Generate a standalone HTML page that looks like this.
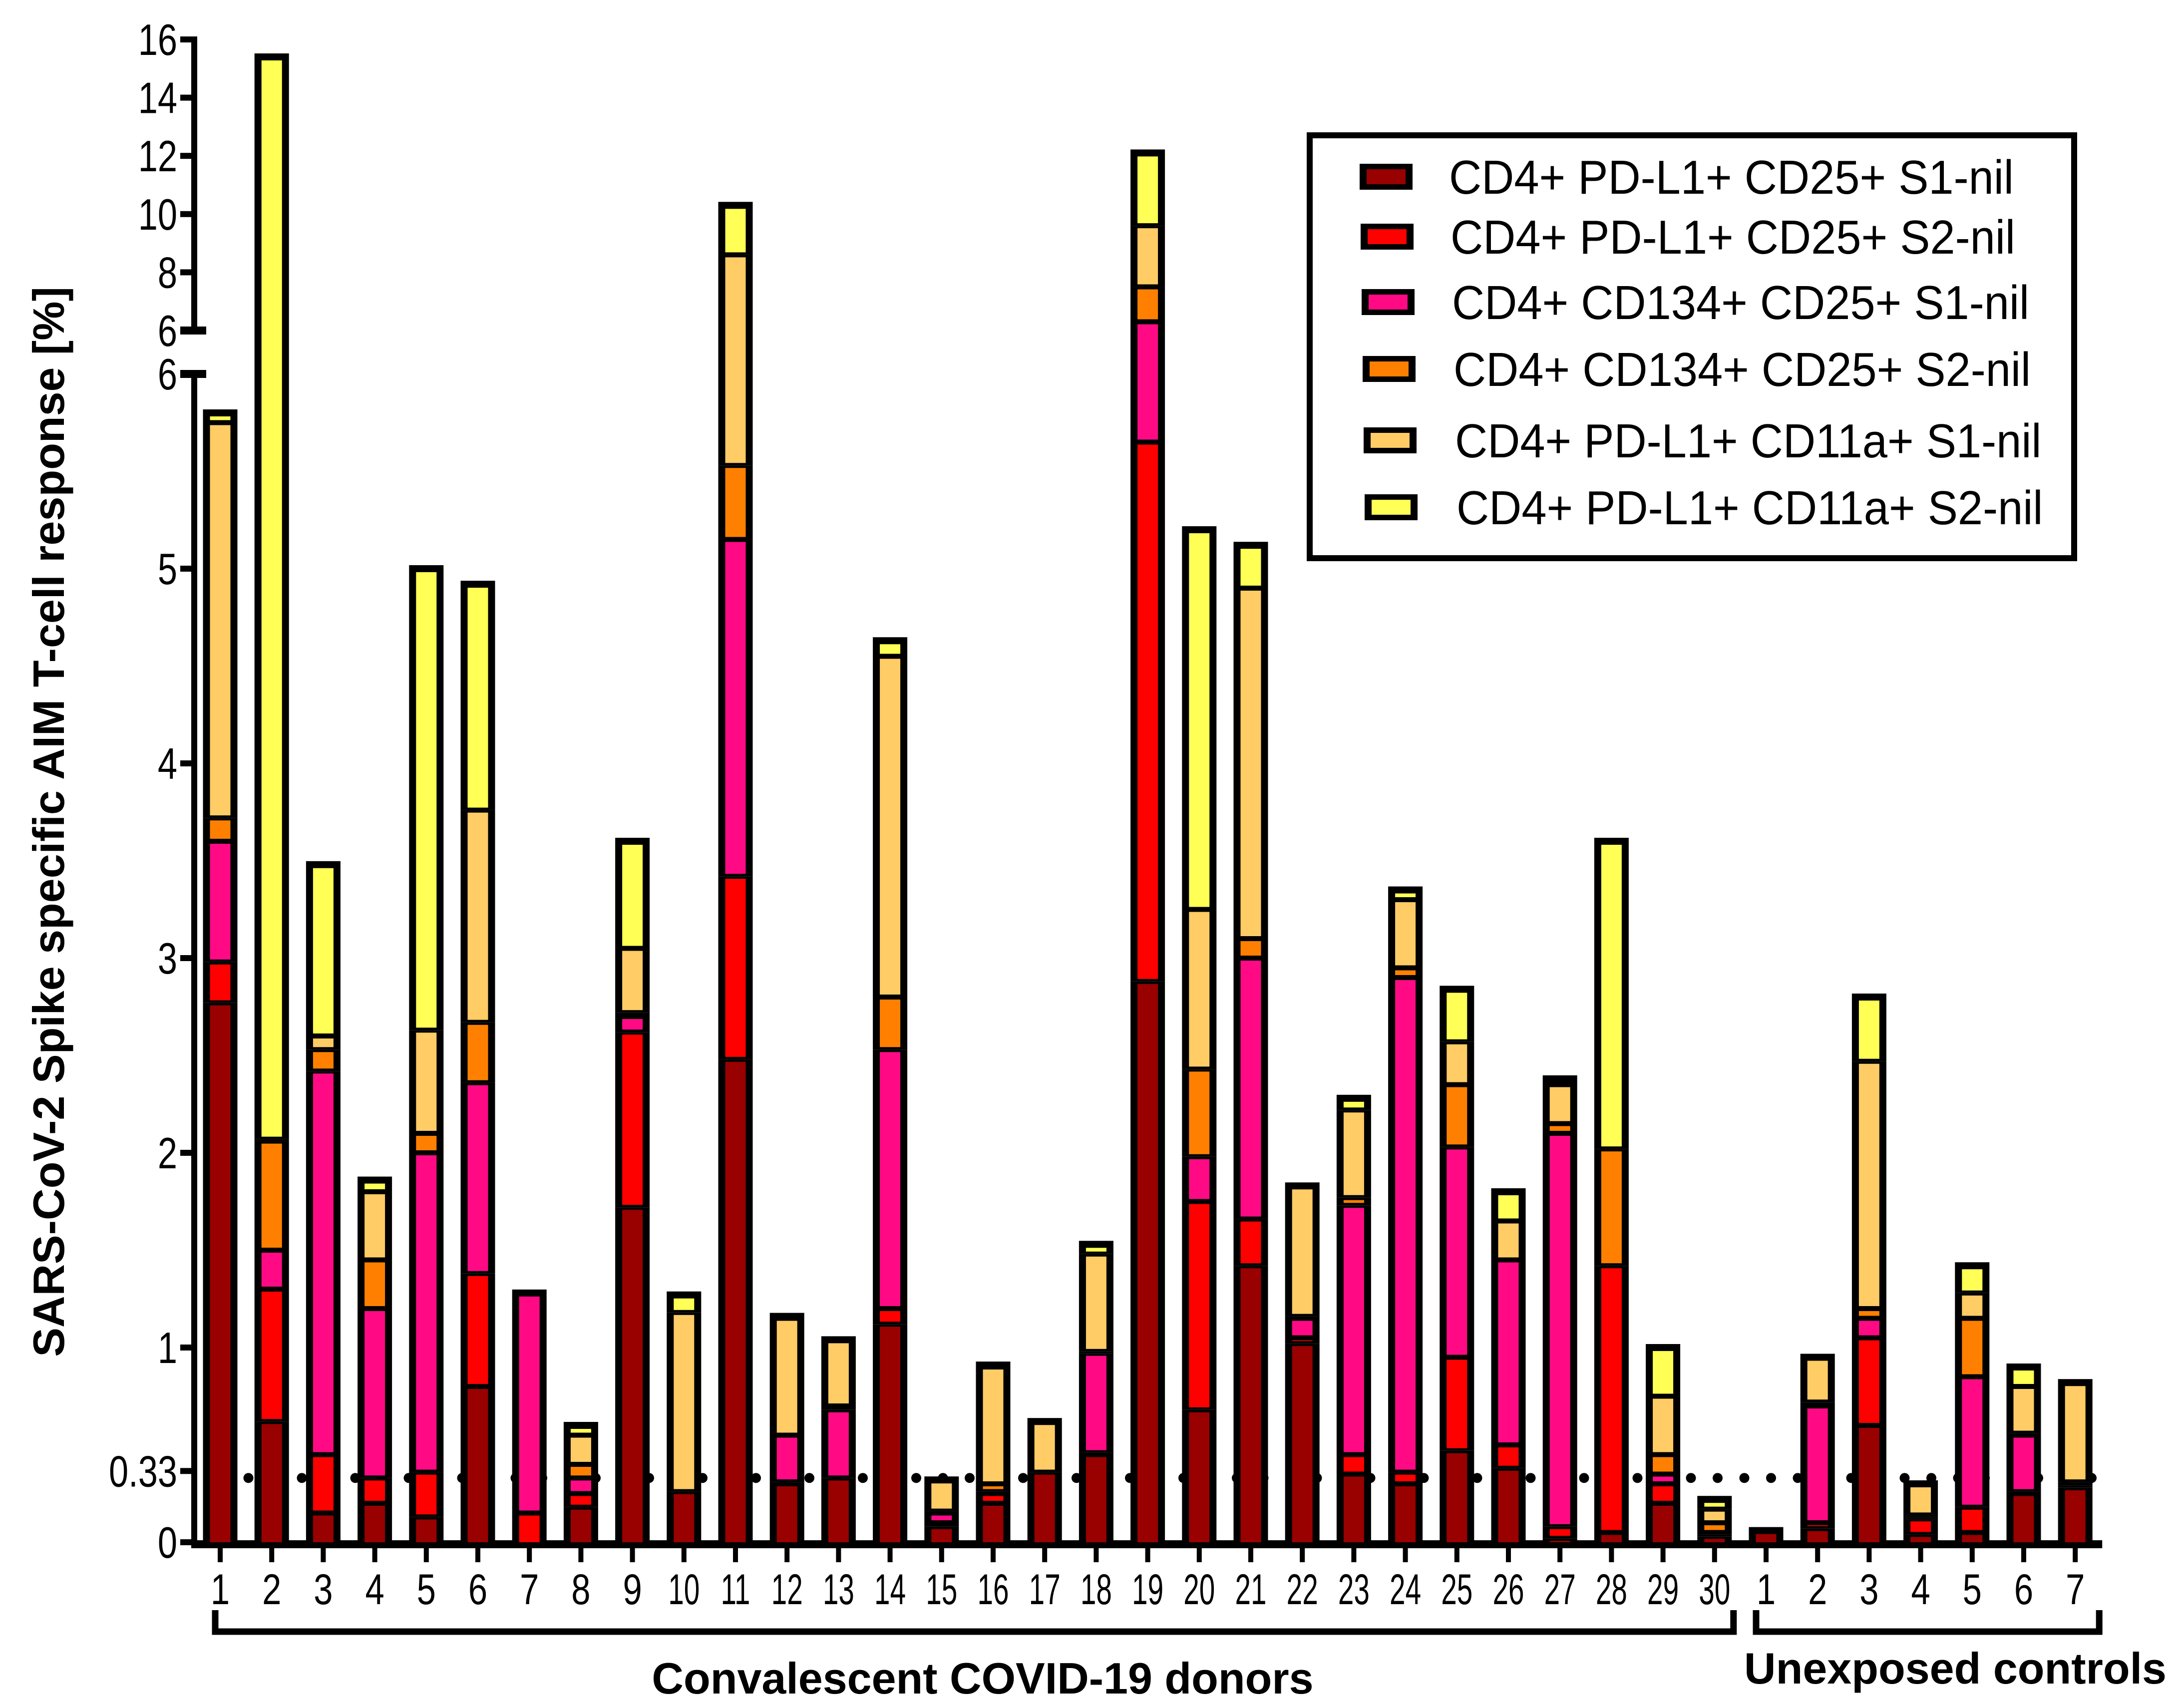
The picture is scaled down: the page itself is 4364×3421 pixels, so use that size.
<!DOCTYPE html>
<html><head><meta charset="utf-8">
<style>
html,body{margin:0;padding:0;background:#fff;}
svg{display:block;font-family:"Liberation Sans",Arial,sans-serif;}
</style></head>
<body>
<svg id="chart" width="4364" height="3421" viewBox="0 0 4364 3421" xmlns="http://www.w3.org/2000/svg">
<g id="axes"></g>
<g id="bars"></g>
<g id="legend"></g>
</svg>
<script>
const categories = ["1","2","3","4","5","6","7","8","9","10","11","12","13","14","15","16","17","18","19","20","21","22","23","24","25","26","27","28","29","30","1","2","3","4","5","6","7"];
const seriesNames = ["CD4+ PD-L1+ CD25+ S1-nil","CD4+ PD-L1+ CD25+ S2-nil","CD4+ CD134+ CD25+ S1-nil","CD4+ CD134+ CD25+ S2-nil","CD4+ PD-L1+ CD11a+ S1-nil","CD4+ PD-L1+ CD11a+ S2-nil"];
const seriesColors = ["#990000","#ff0000","#ff0a84","#ff8000","#ffcc66","#ffff55"];
const pdl1Cd25S1 = [2.77,0.62,0.15,0.20,0.13,0.80,0,0.18,1.72,0.26,2.48,0.30,0.33,1.12,0.08,0.20,0.36,0.45,2.88,0.68,1.42,1.02,0.35,0.30,0.47,0.38,0.02,0.05,0.20,0.03,0.06,0.07,0.60,0.04,0.05,0.25,0.28];
const pdl1Cd25S2 = [0.21,0.68,0.30,0.13,0.23,0.58,0.15,0.07,0.90,0,0.94,0.01,0,0.08,0.02,0.05,0,0.01,2.77,1.07,0.24,0.03,0.10,0.06,0.48,0.12,0.06,1.37,0.10,0.01,0,0.03,0.45,0.08,0.13,0.01,0.01];
const cd134Cd25S1 = [0.62,0.20,1.97,0.87,1.64,0.98,1.13,0.08,0.08,0,1.73,0.24,0.35,1.33,0.05,0.01,0,0.51,0.65,0.23,1.34,0.10,1.28,2.54,1.08,0.95,2.02,0,0.05,0.01,0,0.60,0.10,0.01,0.67,0.29,0.01];
const cd134Cd25S2 = [0.12,0.56,0.11,0.25,0.10,0.31,0,0.07,0.02,0,0.38,0,0.02,0.27,0.01,0.04,0,0.01,1.20,0.45,0.10,0.01,0.04,0.05,0.32,0,0.05,0.60,0.10,0.05,0,0.02,0.05,0.01,0.30,0.01,0.01];
const pdl1Cd11aS1 = [2.03,0.01,0.07,0.35,0.53,1.09,0,0.15,0.33,0.92,3.07,0.60,0.34,1.75,0.16,0.60,0.26,0.50,2.10,0.82,1.80,0.67,0.45,0.35,0.22,0.20,0.20,0,0.30,0.07,0,0.23,1.27,0.16,0.13,0.24,0.51];
const pdl1Cd11aS2 = [0.05,13.33,0.88,0.06,2.37,1.16,0,0.05,0.55,0.09,1.70,0.01,0,0.08,0,0.01,0,0.05,2.50,1.95,0.22,0,0.06,0.05,0.27,0.15,0.03,1.58,0.25,0.05,0,0,0.33,0,0.14,0.10,0];
const lowerTicks = ["0","1","2","3","4","5","6"];
const upperTicks = ["6","8","10","12","14","16"];
const thresholdValue = [0.33];
const series = [pdl1Cd25S1,pdl1Cd25S2,cd134Cd25S1,cd134Cd25S2,pdl1Cd11aS1,pdl1Cd11aS2];

const NS="http://www.w3.org/2000/svg";
const AX=389, Y0=3089, LOWK=390, BRK=6, UP6=662, UPK=58.3;
const X1=441, STEP=103.2, BW=69, BORDER=14, SEP=10;
function yScale(v){ return v<=BRK ? Y0 - v*LOWK : UP6 - (v-BRK)*UPK; }
function xScale(i){ return X1 + i*STEP; }
function mk(tag, attrs, parent){ const e=document.createElementNS(NS,tag); for(const k in attrs) e.setAttribute(k,attrs[k]); parent.appendChild(e); return e; }
const axes=document.getElementById('axes'), bars=document.getElementById('bars'), legend=document.getElementById('legend');

categories.forEach((c,i)=>{
  const cx=xScale(i);
  const g=mk('g',{},bars);
  
  
  let cum=0;
  const total=series.reduce((s,a)=>s+a[i],0);
  series.forEach((arr,s)=>{
    const v=arr[i]; if(v<=0) return;
    const lo=cum, hi=cum+v; cum=hi;
    const pieces=[];
    if(lo<BRK) pieces.push([lo,Math.min(hi,BRK),hi>BRK]);
    if(hi>BRK) pieces.push([Math.max(lo,BRK),hi,false,lo<BRK]);
    pieces.forEach(p=>{
      const yb=yScale(p[0]), yt=yScale(p[1]);
      const cutTop=p[2], cutBot=p[3]===true;
      const isTop = Math.abs(p[1]-total)<1e-9;
      const bt = cutTop?0:(isTop?BORDER:SEP/2), bb = cutBot?0:(p[0]===0?0:SEP/2);
      const bk=mk('rect',{x:cx-BW/2,y:yt-(isTop&&!cutTop?BORDER/2:0),width:BW,height:Math.max(yb-yt+(isTop&&!cutTop?BORDER/2:0),1),fill:'#000'},g);
      
      
      const ih=(yb-bb)-(yt+bt-(isTop&&!cutTop?BORDER/2:0));
      if(ih>0){
        const r=mk('rect',{x:cx-BW/2+BORDER,y:yt+bt-(isTop&&!cutTop?BORDER/2:0),width:BW-2*BORDER,height:ih,fill:seriesColors[s]},g);
        
        
      }
    });
  });
});

function label(x,y,str,size,anchor,parent,sx){
  const t=mk('text',{x:0,y:0,'text-anchor':anchor,'font-size':size,fill:'#000',transform:`translate(${x} ${y}) scale(${sx||0.84} 1)`},parent);
  t.textContent=str;
  return t;
}

let l=mk('rect',{x:AX-6,y:yScale(16)-6,width:12,height:UP6-yScale(16)+6,fill:'#000'},axes);
 
l=mk('rect',{x:AX-6,y:yScale(BRK)-6,width:12,height:Y0-yScale(BRK)+6,fill:'#000'},axes);
 
[UP6, yScale(BRK)].forEach(y=>{ const c=mk('rect',{x:AX-28,y:y-8,width:52,height:16,fill:'#000'},axes);   });
function ytick(v,lab,y){
  const t=mk('rect',{x:AX-28,y:y-6,width:28,height:12,fill:'#000'},axes);
   
  const tx=label(AX-34,y+31,lab,88,'end',axes,0.8);
   
}
lowerTicks.forEach(t=>ytick(+t,t,Y0-(+t)*LOWK));
upperTicks.forEach(t=>ytick(+t,t,UP6-((+t)-BRK)*UPK));
thresholdValue.forEach(v=>ytick(v,String(v),yScale(v)-14));
l=mk('rect',{x:AX-6,y:Y0-4,width:xScale(36)+60-AX,height:16,fill:'#000'},axes);
 
categories.forEach((c,i)=>{
  const t=mk('rect',{x:xScale(i)-5,y:Y0+10,width:10,height:30,fill:'#000'},axes);
   
  const tx=label(xScale(i),Y0+124,c,86,'middle',axes, c.length>1?0.66:0.8);
   
});
for(let x=AX+55; x<xScale(36)+40; x+=53.5){
  const d=mk('circle',{cx:x,cy:yScale(thresholdValue[0]),r:10,fill:'#000'},axes);
   
}
function bracket(x1,x2,name){
  const p=mk('path',{d:`M${x1} 3225 V3268 H${x2} V3225`,fill:'none',stroke:'#000','stroke-width':13},axes);
   
}
bracket(xScale(0)-10,xScale(29)+38,'donors-bracket');
bracket(xScale(30)-20,xScale(36)+48,'controls-bracket');
let tx=mk('text',{x:1968,y:3392,'text-anchor':'middle','font-size':88,'font-weight':'bold',fill:'#000'},axes);
tx.textContent='Convalescent COVID-19 donors';
 
tx=mk('text',{x:3916,y:3372,'text-anchor':'middle','font-size':88,'font-weight':'bold',fill:'#000'},axes);
tx.textContent='Unexposed controls';
 
tx=mk('text',{x:0,y:0,'text-anchor':'middle','font-size':88,'font-weight':'bold',fill:'#000',transform:'translate(128 1646) rotate(-90)'},axes);
tx.textContent='SARS-CoV-2 Spike specific AIM T-cell response [%]';
 

let b=mk('rect',{x:2623,y:271,width:1531,height:847,fill:'#fff',stroke:'#000','stroke-width':12},legend);
 
const rowsY=[354,474,605,739,882,1016];
seriesNames.forEach((n,s)=>{
  const g=mk('g',{},legend);
   
  const sw=mk('rect',{x:2723+s*2,y:rowsY[s]-26,width:106,height:52,fill:'#000'},g);
   
  mk('rect',{x:2737+s*2,y:rowsY[s]-15,width:78,height:30,fill:seriesColors[s]},g);
  const t=label(2902+s*3,rowsY[s]+34,n,96,'start',g,0.94);
   
});
</script>
</body></html>
